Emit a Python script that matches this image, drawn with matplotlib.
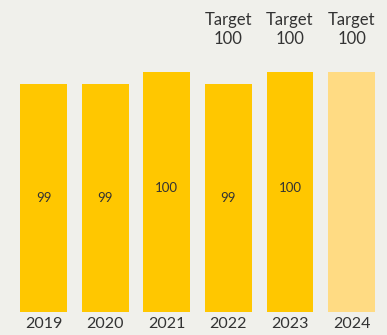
import matplotlib.pyplot as plt

# yearly scores, last year is the target only
years = ['2019', '2020', '2021', '2022', '2023', '2024']
scores = [99, 99, 100, 99, 100, 100]
score_labels = ['99', '99', '100', '99', '100', '']
targets = ['', '', '', '100', '100', '100']

bg = '#f0f0eb'
bar_col = '#ffc700'
target_col = '#ffdb83'
text_col = '#333333'
base = 80

plt.rcParams['font.family'] = ['Lato', 'DejaVu Sans']

fig = plt.figure(figsize=(3.87, 3.35), dpi=100, facecolor=bg)
ax = fig.add_axes([0.033, 0.0696, 0.955, 0.9304])
ax.set_facecolor(bg)

colors = [bar_col] * 5 + [target_col]
x = list(range(len(years)))
heights = [s - base for s in scores]
ax.bar(x, heights, bottom=base, width=0.76, color=colors)

# value labels sit around the middle of each bar
for xi, s, lab in zip(x, scores, score_labels):
    if lab:
        ax.text(xi, (s + base) / 2 + (s - 99) * 0.3, lab, ha='center', va='center',
                fontsize=9.5, color=text_col)

for xi, t in zip(x, targets):
    if t:
        ax.text(xi, 103.5, f'Target\n{t}', ha='center', va='center',
                fontsize=12, color=text_col, linespacing=1.2)

ax.set_xlim(-0.5, 5.5)
ax.set_ylim(base, base + 311.7 / 12)
ax.set_xticks(x)
ax.set_xticklabels(years, fontsize=11.5, color=text_col)
ax.tick_params(axis='x', length=0, pad=4)
ax.set_yticks([])
for sp in ax.spines.values():
    sp.set_visible(False)

fig.savefig('out.png', dpi=100, facecolor=bg)
